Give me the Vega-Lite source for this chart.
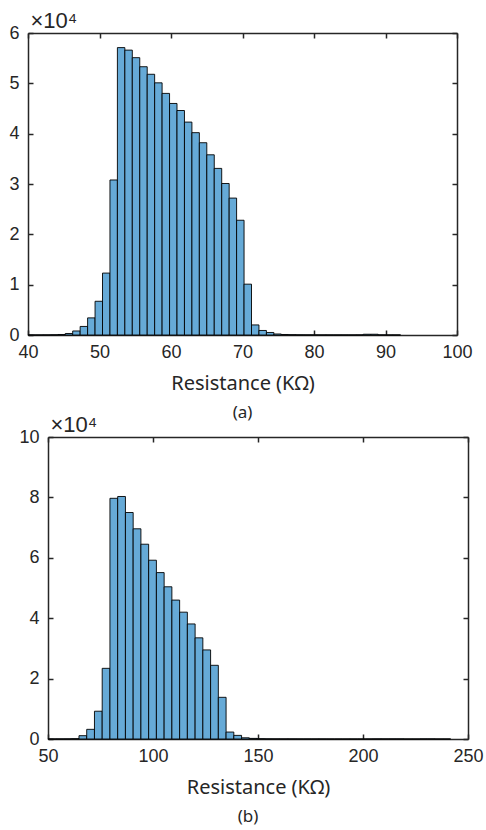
{
  "$schema": "https://vega.github.io/schema/vega-lite/v6.json",
  "background": "white",
  "padding": {"left": 8, "top": 9, "right": 5, "bottom": 5},
  "spacing": -8,
  "config": {
    "view": {"stroke": null},
    "font": "Liberation Sans",
    "axis": {
      "domainColor": "#262626", "domainWidth": 1.5,
      "tickColor": "#262626", "tickWidth": 1.5, "tickSize": -5,
      "labelColor": "#262626", "labelFont": "Liberation Sans", "labelFontSize": 18,
      "labelFlush": false, "labelOverlap": false,
      "grid": false,
      "titleColor": "#262626", "titleFont": "Noto Sans", "titleFontSize": 20, "titleFontWeight": "normal"
    },
    "title": {"font": "Noto Sans", "fontSize": 17, "fontWeight": "normal", "color": "#262626"}
  },
  "vconcat": [
    {
      "width": 429, "height": 302,
      "title": {"text": "(a)", "orient": "bottom", "offset": 12},
      "data": {"values": [
        {"lo": 40.000, "hi": 41.042, "count": 0.002},
        {"lo": 41.042, "hi": 42.084, "count": 0.002},
        {"lo": 42.084, "hi": 43.126, "count": 0.003},
        {"lo": 43.126, "hi": 44.168, "count": 0.005},
        {"lo": 44.168, "hi": 45.210, "count": 0.01},
        {"lo": 45.210, "hi": 46.252, "count": 0.03},
        {"lo": 46.252, "hi": 47.294, "count": 0.08},
        {"lo": 47.294, "hi": 48.336, "count": 0.17},
        {"lo": 48.336, "hi": 49.378, "count": 0.34},
        {"lo": 49.378, "hi": 50.420, "count": 0.67},
        {"lo": 50.420, "hi": 51.462, "count": 1.23},
        {"lo": 51.462, "hi": 52.504, "count": 3.08},
        {"lo": 52.504, "hi": 53.546, "count": 5.71},
        {"lo": 53.546, "hi": 54.588, "count": 5.66},
        {"lo": 54.588, "hi": 55.630, "count": 5.51},
        {"lo": 55.630, "hi": 56.672, "count": 5.33},
        {"lo": 56.672, "hi": 57.714, "count": 5.18},
        {"lo": 57.714, "hi": 58.756, "count": 5.01},
        {"lo": 58.756, "hi": 59.798, "count": 4.80},
        {"lo": 59.798, "hi": 60.840, "count": 4.60},
        {"lo": 60.840, "hi": 61.882, "count": 4.46},
        {"lo": 61.882, "hi": 62.924, "count": 4.23},
        {"lo": 62.924, "hi": 63.966, "count": 4.02},
        {"lo": 63.966, "hi": 65.008, "count": 3.82},
        {"lo": 65.008, "hi": 66.050, "count": 3.58},
        {"lo": 66.050, "hi": 67.092, "count": 3.31},
        {"lo": 67.092, "hi": 68.134, "count": 3.01},
        {"lo": 68.134, "hi": 69.176, "count": 2.72},
        {"lo": 69.176, "hi": 70.218, "count": 2.28},
        {"lo": 70.218, "hi": 71.260, "count": 1.01},
        {"lo": 71.260, "hi": 72.302, "count": 0.20},
        {"lo": 72.302, "hi": 73.344, "count": 0.09},
        {"lo": 73.344, "hi": 74.386, "count": 0.05},
        {"lo": 74.386, "hi": 75.428, "count": 0.02},
        {"lo": 75.428, "hi": 76.470, "count": 0.01},
        {"lo": 76.470, "hi": 77.512, "count": 0.006},
        {"lo": 77.512, "hi": 78.554, "count": 0.004},
        {"lo": 78.554, "hi": 79.596, "count": 0.003},
        {"lo": 79.596, "hi": 80.638, "count": 0.003},
        {"lo": 80.638, "hi": 81.680, "count": 0.002},
        {"lo": 81.680, "hi": 82.722, "count": 0.002},
        {"lo": 82.722, "hi": 83.764, "count": 0.002},
        {"lo": 83.764, "hi": 84.806, "count": 0.002},
        {"lo": 84.806, "hi": 85.848, "count": 0.002},
        {"lo": 85.848, "hi": 86.890, "count": 0.003},
        {"lo": 86.890, "hi": 87.932, "count": 0.015},
        {"lo": 87.932, "hi": 88.974, "count": 0.015},
        {"lo": 88.974, "hi": 90.016, "count": 0.003},
        {"lo": 90.016, "hi": 91.058, "count": 0.002},
        {"lo": 91.058, "hi": 92.100, "count": 0.002}
      ]},
      "layer": [
        {
          "mark": {"type": "bar", "fill": "#66aad7", "stroke": "#000000", "strokeWidth": 0.9},
          "encoding": {
            "x": {"field": "lo", "type": "quantitative",
                  "scale": {"domain": [40, 100], "nice": false, "zero": false},
                  "axis": {"orient": "bottom", "values": [40, 50, 60, 70, 80, 90, 100], "labelPadding": 13, "titlePadding": 12, "title": "Resistance (KΩ)"}},
            "x2": {"field": "hi"},
            "y": {"field": "count", "type": "quantitative",
                  "scale": {"domain": [0, 6], "nice": false},
                  "axis": {"orient": "left", "values": [0, 1, 2, 3, 4, 5, 6], "labelPadding": 14,
                           "title": "×10⁴", "titleAngle": 0, "titleAlign": "left", "titleBaseline": "alphabetic",
                           "titleX": 2, "titleY": -6, "titleFont": "Liberation Sans", "titleFontSize": 22}},
            "y2": {"datum": 0}
          }
        },
        {
          "mark": {"type": "bar", "opacity": 0},
          "encoding": {
            "x": {"field": "lo", "type": "quantitative",
                  "axis": {"orient": "top", "values": [40, 50, 60, 70, 80, 90, 100], "labels": false, "title": null}},
            "x2": {"field": "hi"},
            "y": {"field": "count", "type": "quantitative",
                  "axis": {"orient": "right", "values": [0, 1, 2, 3, 4, 5, 6], "labels": false, "title": null}},
            "y2": {"datum": 0}
          }
        }
      ],
      "resolve": {"axis": {"x": "independent", "y": "independent"}}
    },
    {
      "width": 440, "height": 302,
      "title": {"text": "(b)", "orient": "bottom", "offset": 12},
      "data": {"values": [
        {"lo": 50.000, "hi": 53.687, "count": 0.003},
        {"lo": 53.687, "hi": 57.374, "count": 0.004},
        {"lo": 57.374, "hi": 61.061, "count": 0.005},
        {"lo": 61.061, "hi": 64.748, "count": 0.01},
        {"lo": 64.748, "hi": 68.435, "count": 0.11},
        {"lo": 68.435, "hi": 72.122, "count": 0.32},
        {"lo": 72.122, "hi": 75.809, "count": 0.92},
        {"lo": 75.809, "hi": 79.496, "count": 2.34},
        {"lo": 79.496, "hi": 83.183, "count": 7.97},
        {"lo": 83.183, "hi": 86.870, "count": 8.03},
        {"lo": 86.870, "hi": 90.557, "count": 7.50},
        {"lo": 90.557, "hi": 94.244, "count": 6.96},
        {"lo": 94.244, "hi": 97.931, "count": 6.45},
        {"lo": 97.931, "hi": 101.618, "count": 5.92},
        {"lo": 101.618, "hi": 105.305, "count": 5.51},
        {"lo": 105.305, "hi": 108.992, "count": 5.04},
        {"lo": 108.992, "hi": 112.679, "count": 4.60},
        {"lo": 112.679, "hi": 116.366, "count": 4.20},
        {"lo": 116.366, "hi": 120.053, "count": 3.81},
        {"lo": 120.053, "hi": 123.740, "count": 3.35},
        {"lo": 123.740, "hi": 127.427, "count": 2.95},
        {"lo": 127.427, "hi": 131.114, "count": 2.44},
        {"lo": 131.114, "hi": 134.801, "count": 1.38},
        {"lo": 134.801, "hi": 138.488, "count": 0.23},
        {"lo": 138.488, "hi": 142.175, "count": 0.12},
        {"lo": 142.175, "hi": 145.862, "count": 0.04},
        {"lo": 145.862, "hi": 149.549, "count": 0.02},
        {"lo": 149.549, "hi": 153.236, "count": 0.01},
        {"lo": 153.236, "hi": 156.923, "count": 0.006},
        {"lo": 156.923, "hi": 160.610, "count": 0.005},
        {"lo": 160.610, "hi": 164.297, "count": 0.004},
        {"lo": 164.297, "hi": 167.984, "count": 0.004},
        {"lo": 167.984, "hi": 171.671, "count": 0.003},
        {"lo": 171.671, "hi": 175.358, "count": 0.003},
        {"lo": 175.358, "hi": 179.045, "count": 0.003},
        {"lo": 179.045, "hi": 182.732, "count": 0.003},
        {"lo": 182.732, "hi": 186.419, "count": 0.002},
        {"lo": 186.419, "hi": 190.106, "count": 0.002},
        {"lo": 190.106, "hi": 193.793, "count": 0.002},
        {"lo": 193.793, "hi": 197.480, "count": 0.002},
        {"lo": 197.480, "hi": 201.167, "count": 0.002},
        {"lo": 201.167, "hi": 204.854, "count": 0.003},
        {"lo": 204.854, "hi": 208.541, "count": 0.005},
        {"lo": 208.541, "hi": 212.228, "count": 0.005},
        {"lo": 212.228, "hi": 215.915, "count": 0.005},
        {"lo": 215.915, "hi": 219.602, "count": 0.005},
        {"lo": 219.602, "hi": 223.289, "count": 0.002},
        {"lo": 223.289, "hi": 226.976, "count": 0.002},
        {"lo": 226.976, "hi": 230.663, "count": 0.005},
        {"lo": 230.663, "hi": 234.350, "count": 0.005},
        {"lo": 234.350, "hi": 238.037, "count": 0.002},
        {"lo": 238.037, "hi": 241.724, "count": 0.002}
      ]},
      "layer": [
        {
          "mark": {"type": "bar", "fill": "#66aad7", "stroke": "#000000", "strokeWidth": 0.9},
          "encoding": {
            "x": {"field": "lo", "type": "quantitative",
                  "scale": {"domain": [50, 250], "nice": false, "zero": false, "range": [20, 440]},
                  "axis": {"orient": "bottom", "values": [50, 100, 150, 200, 250], "labelPadding": 13, "titlePadding": 12, "title": "Resistance (KΩ)"}},
            "x2": {"field": "hi"},
            "y": {"field": "count", "type": "quantitative",
                  "scale": {"domain": [0, 10], "nice": false},
                  "axis": {"orient": "left", "offset": -20, "values": [0, 2, 4, 6, 8, 10], "labelPadding": 14,
                           "title": "×10⁴", "titleAngle": 0, "titleAlign": "left", "titleBaseline": "alphabetic",
                           "titleX": 2, "titleY": -6, "titleFont": "Liberation Sans", "titleFontSize": 22}},
            "y2": {"datum": 0}
          }
        },
        {
          "mark": {"type": "bar", "opacity": 0},
          "encoding": {
            "x": {"field": "lo", "type": "quantitative",
                  "axis": {"orient": "top", "values": [50, 100, 150, 200, 250], "labels": false, "title": null}},
            "x2": {"field": "hi"},
            "y": {"field": "count", "type": "quantitative",
                  "axis": {"orient": "right", "values": [0, 2, 4, 6, 8, 10], "labels": false, "title": null}},
            "y2": {"datum": 0}
          }
        }
      ],
      "resolve": {"axis": {"x": "independent", "y": "independent"}}
    }
  ]
}
